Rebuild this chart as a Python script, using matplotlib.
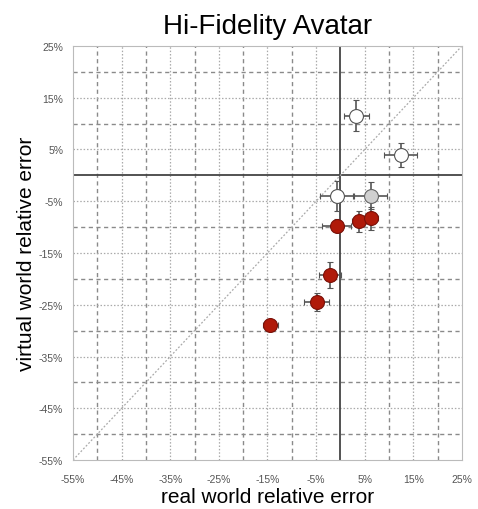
import matplotlib
matplotlib.use("Agg")
import matplotlib.pyplot as plt
import numpy as np

plt.rcParams['font.family'] = ['Liberation Sans', 'DejaVu Sans']

# data (percent)
white_x = [3.3, 12.4, -0.8]
white_y = [11.5, 4.0, -3.9]
white_xerr = [2.5, 3.4, 3.3]
white_yerr = [3.0, 2.3, 2.9]

gray_x = [6.2]
gray_y = [-3.9]
gray_xerr = [3.4]
gray_yerr = [2.6]

red_x = [-0.8, 3.8, 6.3, -2.2, -4.9, -14.4]
red_y = [-9.7, -8.9, -8.3, -19.3, -24.5, -29.0]
red_xerr = [2.9, 1.5, 1.5, 2.3, 2.6, 1.6]
red_yerr = [1.3, 2.0, 2.2, 2.5, 1.7, 1.0]

ticks = list(range(-55, 26, 10))
tick_labels = [f"{t}%" for t in ticks]

fig = plt.figure(figsize=(4.78, 5.10), dpi=100)
ax = fig.add_axes([0.1527, 0.096, 0.8138, 0.812])
ax.set_xlim(-55, 25)
ax.set_ylim(-55, 25)

gc = '#8a8a8a'
for v in range(-50, 25, 10):
    if v == 0:
        continue
    ax.axvline(v, color=gc, lw=1.0, ls=(0, (3, 2.5)), zorder=0)
    ax.axhline(v, color=gc, lw=1.0, ls=(0, (3, 2.5)), zorder=0)
for v in range(-45, 25, 10):
    ax.axvline(v, color='#aaaaaa', lw=0.9, ls=(0, (1.2, 1.5)), zorder=0)
    ax.axhline(v, color='#aaaaaa', lw=0.9, ls=(0, (1.2, 1.5)), zorder=0)
ax.axvline(0, color='#444444', lw=1.3, zorder=1)
ax.axhline(0, color='#444444', lw=1.3, zorder=1)
ax.plot([-55, 25], [-55, 25], color='#aaaaaa', lw=0.9, ls=(0, (1.5, 1.5)), zorder=1)

ekw = dict(fmt='o', ms=10, ecolor='#555555', elinewidth=1.2, capsize=2.5, capthick=1.2, zorder=3)
ax.errorbar(white_x, white_y, xerr=white_xerr, yerr=white_yerr,
            mfc='white', mec='#555555', mew=0.8, **ekw)
ax.errorbar(gray_x, gray_y, xerr=gray_xerr, yerr=gray_yerr,
            mfc='#d0d0d0', mec='#666666', mew=0.8, **ekw)
ax.errorbar(red_x, red_y, xerr=red_xerr, yerr=red_yerr,
            mfc='#b01a0a', mec='#7a1008', mew=0.8, **ekw)

ax.set_xticks(ticks)
ax.set_xticklabels(tick_labels)
ax.set_yticks(ticks)
ax.set_yticklabels(tick_labels)
ax.tick_params(length=0, labelsize=7.5, colors='#555555')
ax.tick_params(axis='x', pad=10)
ax.tick_params(axis='y', pad=7)
for s in ax.spines.values():
    s.set_color('#bbbbbb')
    s.set_linewidth(0.8)

ax.set_title('Hi-Fidelity Avatar', fontsize=20, pad=9)
ax.set_xlabel('real world relative error', fontsize=15, labelpad=2)
ax.set_ylabel('virtual world relative error', fontsize=15, labelpad=2)

fig.savefig('out.png', dpi=100)
